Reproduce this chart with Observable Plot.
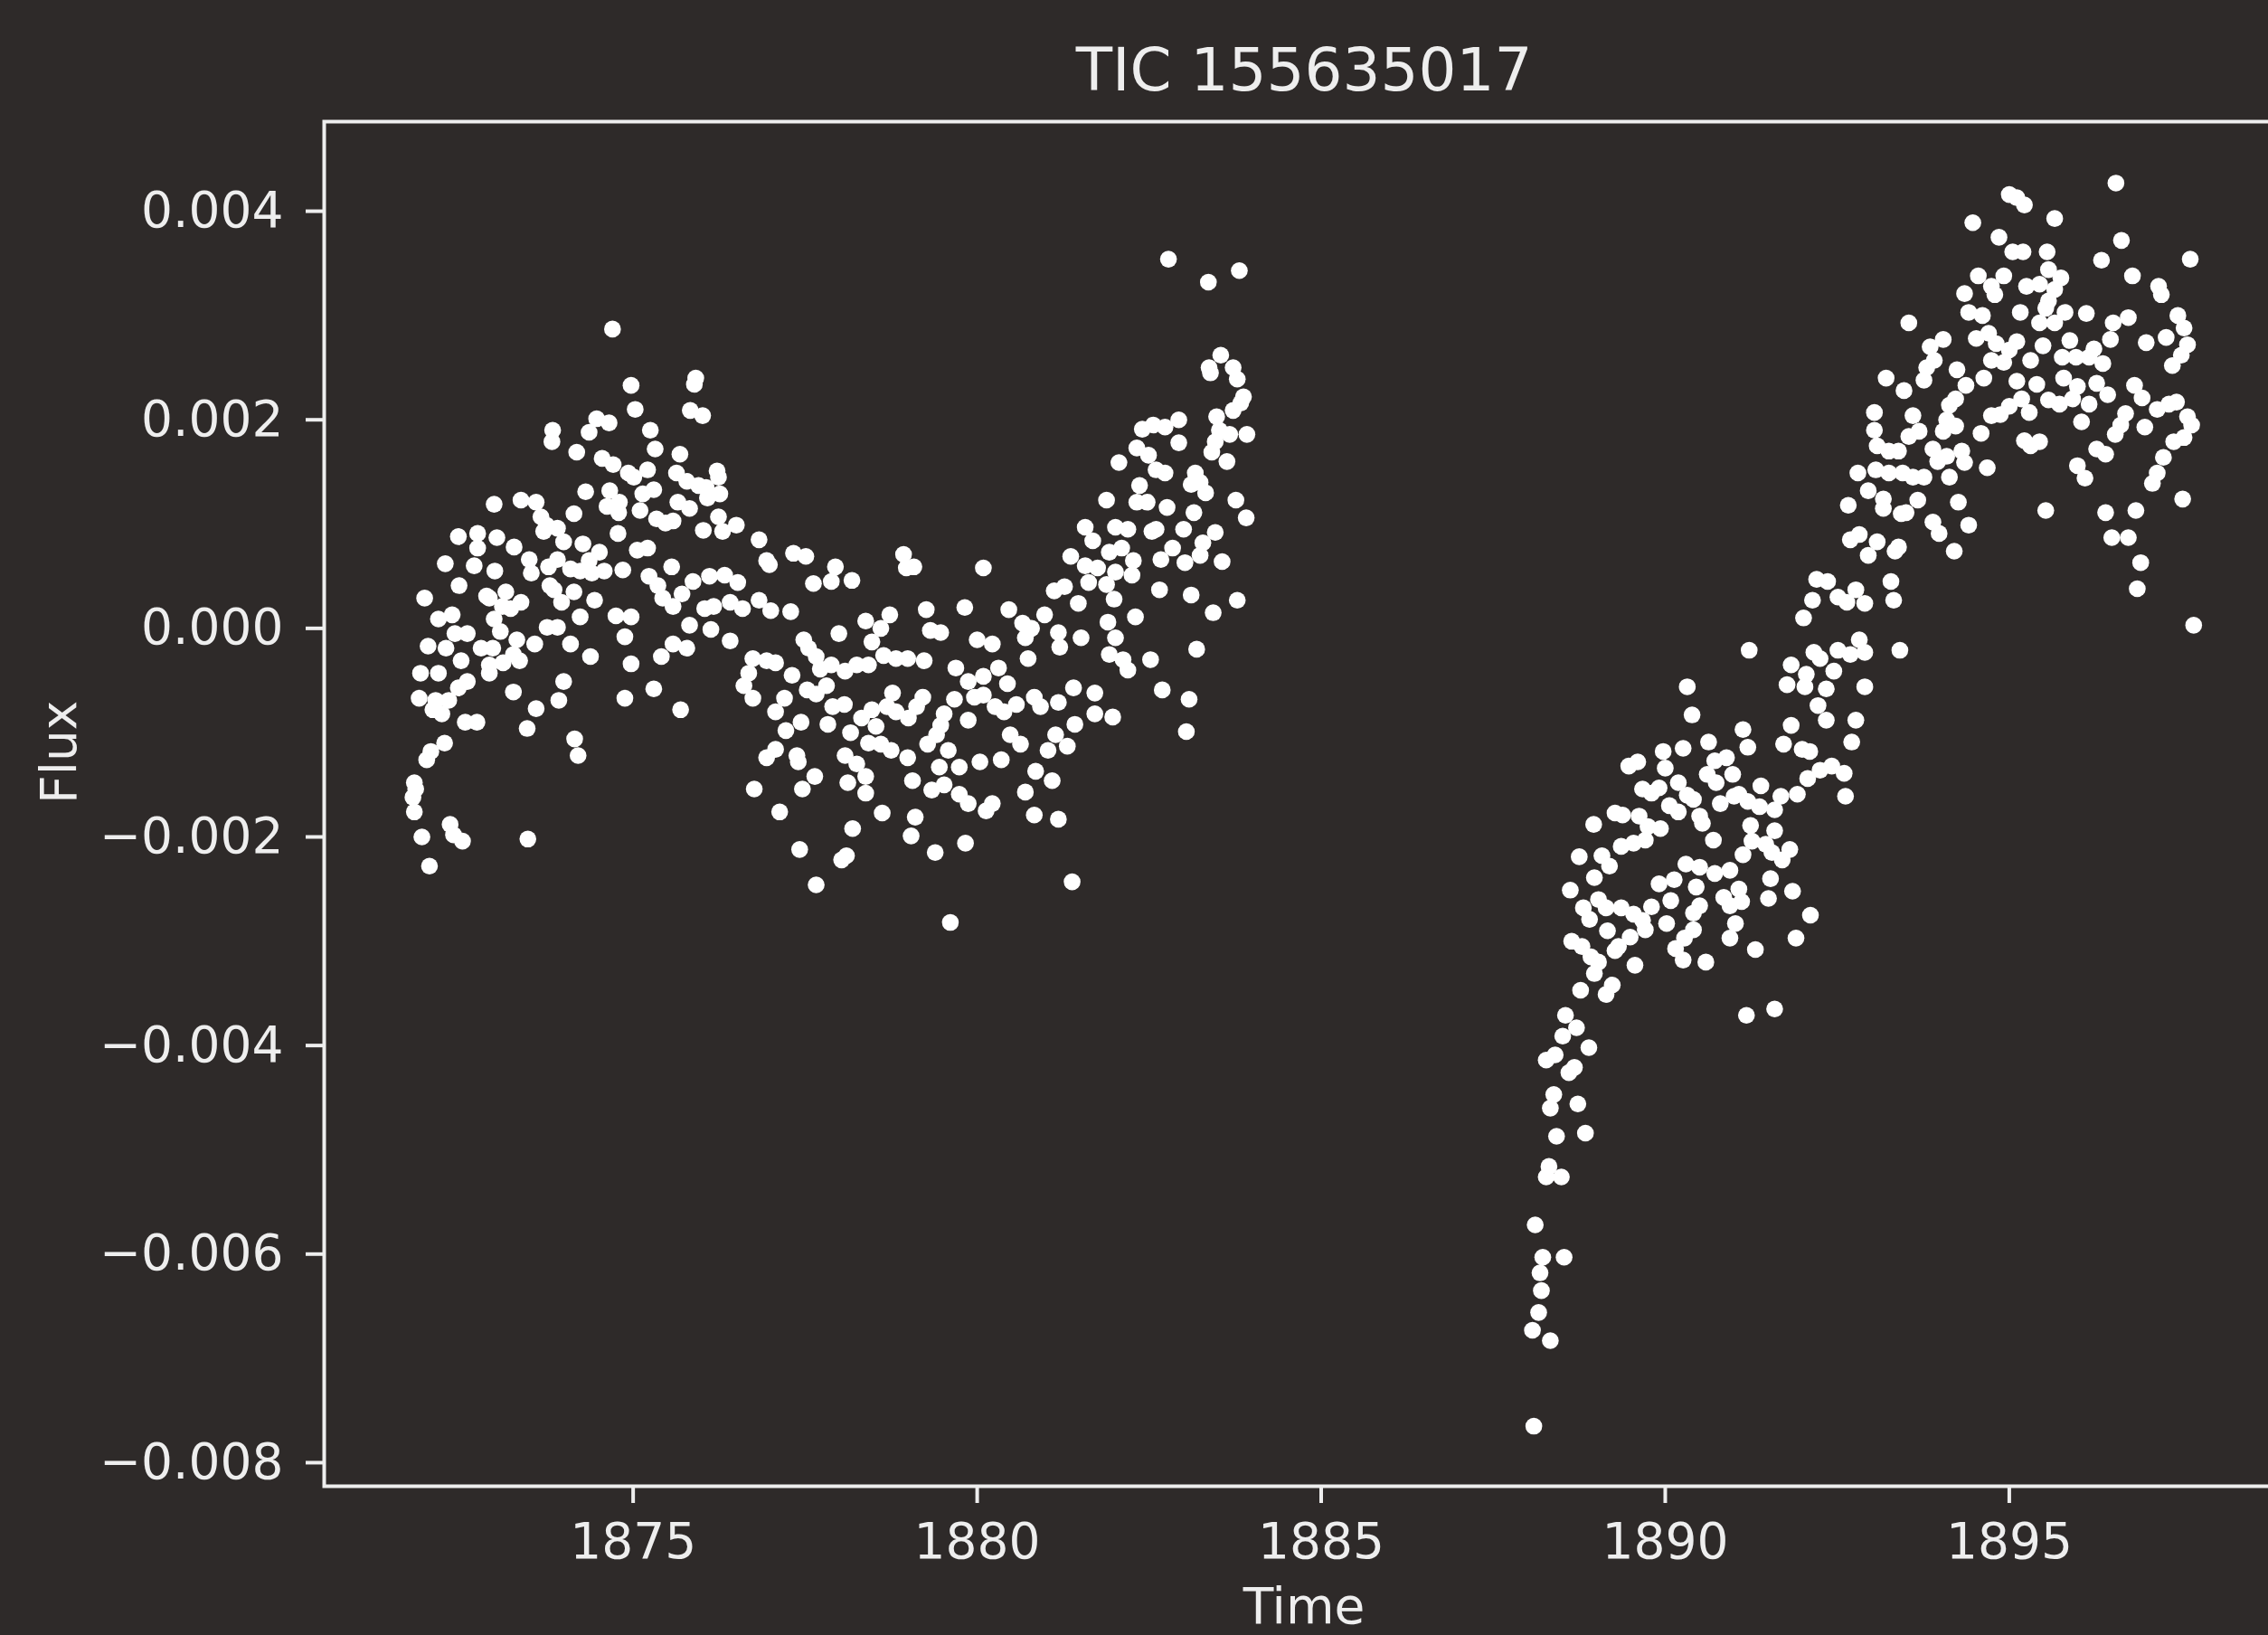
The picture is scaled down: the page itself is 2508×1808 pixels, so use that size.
<!DOCTYPE html>
<html>
<head>
<meta charset="utf-8">
<script src="https://cdn.jsdelivr.net/npm/d3@7"></script>
<script src="https://cdn.jsdelivr.net/npm/@observablehq/plot@0.6"></script>
<style>
  html, body { margin: 0; padding: 0; background: #2e2a29; overflow: hidden; }
  #chart svg { max-width: none !important; }
</style>
</head>
<body>
<div id="chart"></div>
<script>
// Light curve of TIC 155635017: two orbits separated by the data downlink gap.
const title = "TIC 155635017";
const xLabel = "Time";
const yLabel = "Flux";
const timeTicks = [1875, 1880, 1885, 1890, 1895];
const fluxTicks = [-0.008, -0.006, -0.004, -0.002, 0, 0.002, 0.004];

// First orbit
const orbit1Time = [
  1874.70,1874.97,1875.03,1873.83,1873.82,1874.47,1874.65,1874.36,1874.18,1874.55,
  1874.71,1874.93,1875.01,1874.31,1874.66,1874.80,1874.79,1872.98,1873.37,1873.59,
  1873.66,1873.70,1873.90,1873.99,1874.14,1874.27,1874.51,1874.36,1874.78,1875.10,
  1875.06,1872.46,1872.74,1873.02,1873.27,1872.27,1872.69,1872.99,1873.49,1873.52,
  1873.77,1873.90,1874.09,1874.23,1874.40,1874.58,1874.85,1872.47,1871.97,1872.87,
  1873.15,1873.37,1873.22,1873.85,1873.96,1874.14,1874.44,1874.75,1874.97,1874.88,
  1872.17,1872.37,1872.41,1872.59,1872.02,1872.28,1872.79,1872.96,1873.07,1873.31,
  1873.57,1873.75,1873.90,1874.09,1874.23,1874.38,1874.97,1871.91,1872.17,1872.50,
  1872.91,1873.11,1873.26,1873.35,1872.59,1872.46,1872.91,1871.89,1872.13,1872.32,
  1872.09,1872.22,1873.26,1873.99,1873.92,1873.59,1872.56,1872.73,1873.46,1874.88,
  1872.26,1872.06,1872.00,1874.15,1874.20,1871.82,1871.84,1871.82,1871.93,1872.34,
  1872.39,1872.52,1873.47,1872.04,1873.74,1872.74,1872.91,1873.10,1872.98,1873.79,
  1875.91,1875.89,1875.83,1876.01,1875.25,1875.32,1875.68,1875.21,1875.63,1875.78,
  1875.95,1876.06,1876.22,1876.24,1875.30,1875.14,1875.65,1875.82,1876.08,1876.26,
  1875.34,1875.47,1875.58,1876.02,1876.24,1876.30,1876.50,1876.83,1876.94,1876.98,
  1877.33,1875.21,1875.56,1875.23,1875.36,1875.43,1875.58,1875.71,1875.87,1876.11,
  1876.33,1876.52,1876.04,1876.17,1876.41,1876.59,1876.83,1877.00,1877.29,1875.82,
  1876.13,1876.41,1875.58,1875.78,1875.41,1875.30,1875.69,1877.51,1877.62,1877.88,
  1877.94,1878.18,1877.48,1877.55,1877.66,1877.72,1877.99,1878.38,1878.47,1876.74,
  1876.94,1877.07,1876.68,1876.61,1876.74,1877.31,1877.20,1877.07,1877.22,1877.44,
  1877.53,1877.66,1877.81,1877.90,1878.07,1877.83,1877.88,1878.08,1878.25,1878.42,
  1878.16,1878.32,1878.47,1878.53,1878.42,1876.94,1877.07,1877.38,1877.40,1877.64,
  1878.08,1878.25,1878.38,1878.12,1878.38,1876.76,1877.46,1877.13,1878.19,1878.03,
  1878.10,1877.42,1877.66,
  1878.93,1878.97,1879.08,1880.09,1881.57,1881.68,1881.36,1881.57,1881.75,1881.12,
  1881.27,1881.47,1881.62,1878.73,1878.60,1878.64,1878.82,1878.99,1879.26,1879.32,
  1879.47,1879.23,1879.82,1880.00,1880.22,1880.46,1880.66,1880.79,1880.98,1880.70,
  1881.18,1881.20,1881.51,1880.74,1879.69,1879.87,1880.09,1880.31,1880.44,1878.77,
  1878.69,1878.82,1879.00,1879.21,1879.12,1879.67,1879.52,1879.47,1879.87,1879.96,
  1880.09,1880.26,1880.39,1880.57,1880.83,1880.92,1881.18,1881.40,1881.71,1881.71,
  1878.60,1878.75,1878.99,1879.28,1879.41,1879.58,1879.74,1879.45,1880.04,1880.35,
  1880.48,1880.63,1880.85,1881.03,1881.14,1881.31,1881.42,1881.09,1879.06,1879.34,
  1879.52,1879.74,1879.87,1880.22,1880.13,1880.70,1880.83,1881.18,1878.62,1879.10,
  1879.04,1879.39,1879.83,1881.38,1879.61,
  1882.78,1883.36,1883.81,1883.54,1883.37,1883.39,1883.72,1883.78,1883.87,1883.72,
  1883.92,1883.67,1883.48,1883.52,1883.46,1883.41,1883.63,1882.93,1882.93,1882.40,
  1882.56,1882.73,1882.32,1882.49,1882.60,1882.73,1882.06,1883.17,1883.24,1883.32,
  1883.11,1882.36,1882.32,1882.47,1881.88,1882.76,1883.15,1883.00,1883.46,1883.76,
  1883.91,1882.01,1882.19,1882.54,1882.60,1881.92,1882.10,1882.27,1882.01,1882.25,
  1882.67,1882.84,1883.02,1883.24,1883.28,1883.56,1881.88,1881.99,1882.65,1883.11,
  1883.43,1883.78,1882.30,1881.90,1882.01,1881.92,1882.12,1882.19,1882.52,1883.19,
  1882.69,1883.08,1883.04,1881.97,1883.83,1871.80,1874.62
];
const orbit1Flux = [
  0.00287,0.00233,0.00210,0.00190,0.00179,0.00201,0.00197,0.00188,0.00169,0.00163,
  0.00157,0.00149,0.00145,0.00131,0.00132,0.00121,0.00111,0.00119,0.00123,0.00121,
  0.00107,0.00093,0.00096,0.00083,0.00110,0.00081,0.00073,0.00065,0.00091,0.00113,
  0.00075,0.00088,0.00091,0.00087,0.00078,0.00062,0.00060,0.00055,0.00066,0.00053,
  0.00059,0.00066,0.00057,0.00055,0.00053,0.00055,0.00056,0.00041,0.00029,0.00031,
  0.00035,0.00025,0.00019,0.00037,0.00025,0.00035,0.00027,0.00012,0.00011,-0.00008,
  0.00009,0.00013,-0.00005,-0.00005,-0.00017,-0.00019,-0.00019,-0.00019,-0.00003,-0.00011,
  -0.00015,0.00001,0.00001,-0.00015,0.00011,-0.00027,-0.00034,-0.00043,-0.00043,-0.00031,
  -0.00035,-0.00033,-0.00025,-0.00031,-0.00051,-0.00057,-0.00043,-0.00067,-0.00069,-0.00069,
  -0.00078,-0.00082,-0.00061,-0.00051,-0.00069,-0.00077,-0.00090,-0.00090,-0.00096,-0.00067,
  -0.00110,-0.00118,-0.00126,-0.00106,-0.00122,-0.00148,-0.00154,-0.00176,-0.00200,-0.00188,
  -0.00198,-0.00204,-0.00202,-0.00228,0.00099,0.00077,0.00029,0.00021,0.00009,0.00041,
  0.00240,0.00234,0.00209,0.00204,0.00190,0.00172,0.00167,0.00152,0.00149,0.00141,
  0.00137,0.00135,0.00151,0.00145,0.00133,0.00129,0.00121,0.00115,0.00125,0.00129,
  0.00105,0.00101,0.00103,0.00094,0.00107,0.00093,0.00099,0.00085,0.00065,0.00061,
  0.00072,0.00077,0.00059,0.00050,0.00041,0.00029,0.00021,0.00033,0.00045,0.00050,
  0.00051,0.00044,0.00019,0.00021,0.00025,0.00019,0.00027,0.00017,0.00016,0.00003,
  -0.00001,-0.00012,-0.00015,-0.00019,-0.00027,-0.00058,-0.00078,0.00069,0.00043,0.00045,
  0.00059,0.00046,-0.00011,-0.00019,-0.00027,-0.00039,-0.00005,0.00007,-0.00013,-0.00029,
  -0.00031,-0.00033,-0.00043,-0.00055,-0.00067,-0.00045,-0.00067,-0.00080,-0.00098,-0.00090,
  -0.00059,-0.00063,-0.00055,-0.00075,-0.00073,-0.00092,-0.00035,-0.00041,-0.00035,-0.00035,
  -0.00100,-0.00086,-0.00078,-0.00094,-0.00110,-0.00124,-0.00116,-0.00122,-0.00128,-0.00142,
  -0.00122,-0.00130,-0.00142,-0.00148,-0.00158,-0.00154,-0.00154,-0.00176,-0.00192,-0.00222,
  -0.00218,-0.00212,-0.00246,
  0.00071,0.00058,0.00059,0.00058,0.00097,0.00084,0.00069,0.00060,0.00058,0.00036,
  0.00040,0.00024,0.00044,0.00013,0.00000,-0.00026,-0.00029,-0.00029,0.00018,-0.00002,
  -0.00004,-0.00031,0.00020,-0.00011,-0.00015,0.00018,0.00005,0.00000,0.00013,-0.00009,
  -0.00004,-0.00018,-0.00009,-0.00029,-0.00038,-0.00051,-0.00046,-0.00038,-0.00053,-0.00062,
  -0.00075,-0.00080,-0.00086,-0.00066,-0.00075,-0.00068,-0.00082,-0.00093,-0.00088,-0.00066,
  -0.00064,-0.00075,-0.00080,-0.00073,-0.00066,-0.00075,-0.00071,-0.00057,-0.00062,-0.00082,
  -0.00111,-0.00117,-0.00124,-0.00111,-0.00102,-0.00117,-0.00133,-0.00133,-0.00128,-0.00126,
  -0.00102,-0.00111,-0.00137,-0.00117,-0.00102,-0.00113,-0.00092,-0.00146,-0.00146,-0.00155,
  -0.00150,-0.00159,-0.00168,-0.00168,-0.00175,-0.00157,-0.00179,-0.00183,-0.00177,-0.00181,
  -0.00199,-0.00215,-0.00206,-0.00243,-0.00282,
  0.00354,0.00332,0.00343,0.00262,0.00250,0.00245,0.00250,0.00239,0.00222,0.00209,
  0.00186,0.00186,0.00203,0.00190,0.00179,0.00169,0.00160,0.00200,0.00178,0.00191,
  0.00195,0.00193,0.00173,0.00166,0.00152,0.00149,0.00159,0.00149,0.00140,0.00130,
  0.00138,0.00137,0.00121,0.00121,0.00123,0.00116,0.00111,0.00095,0.00092,0.00123,
  0.00106,0.00097,0.00095,0.00093,0.00095,0.00073,0.00077,0.00065,0.00054,0.00051,
  0.00066,0.00077,0.00063,0.00070,0.00082,0.00064,0.00042,0.00028,0.00037,0.00032,
  0.00015,0.00027,0.00011,0.00006,-0.00009,-0.00025,-0.00030,-0.00040,-0.00030,-0.00020,
  -0.00059,-0.00068,-0.00099,-0.00085,0.00216,-0.00162,0.00117
];

// Second orbit
const orbit2Time = [
  1888.09,1888.11,1888.22,1888.53,1888.18,1888.20,1888.16,1888.07,1888.33,1888.31,
  1888.27,1888.49,1888.42,1888.84,1888.38,1888.33,1888.73,1888.27,1888.40,1888.60,
  1888.68,1888.55,1888.51,1888.71,1888.89,1888.77,1889.14,1889.23,
  1890.32,1890.39,1890.63,1889.97,1890.26,1889.47,1889.60,1890.00,1890.72,1890.89,
  1890.98,1890.61,1890.74,1889.67,1889.80,1889.91,1890.19,1890.32,1890.41,1890.50,
  1890.54,1890.06,1890.19,1890.80,1891.00,1889.27,1889.38,1889.62,1889.75,1889.93,
  1888.96,1889.36,1889.54,1889.71,1890.70,1888.75,1889.08,1889.19,1890.30,1890.50,
  1890.72,1890.94,1888.97,1889.91,1890.13,1890.45,1888.62,1890.85,1890.94,1889.03,
  1888.81,1888.90,1889.14,1889.36,1889.54,1889.67,1889.80,1890.08,1890.41,1890.50,
  1889.16,1889.49,1889.71,1890.02,1890.41,1890.28,1888.64,1888.79,1889.27,1889.32,
  1888.92,1889.03,1889.56,1890.15,1890.26,1890.59,1890.94,1888.97,
  1891.18,1891.59,1891.31,1891.90,1892.11,1891.53,1891.50,1891.85,1891.07,1891.11,
  1891.02,1891.13,1891.26,1891.46,1891.59,1891.55,1891.70,1891.81,1891.24,1891.07,
  1891.20,1891.39,1891.37,1891.59,1891.68,1891.92,1892.07,1892.25,1892.42,1892.60,
  1892.62,1891.13,1891.20,1891.83,1891.72,1891.99,1892.10,1892.71,1892.77,1891.83,
  1891.77,1892.05,1892.03,1892.16,1892.25,1892.45,1892.34,1892.22,1892.34,1892.90,
  1891.22,1892.51,1892.69,1892.82,1892.90,1893.41,1892.01,1892.14,1892.20,1892.36,
  1892.51,1892.64,1892.77,1892.90,1892.66,1892.69,1892.82,1892.95,1893.08,1893.17,
  1893.28,1893.32,1893.39,1893.43,
  1895.00,1895.22,1895.11,1894.47,1894.85,1895.05,1895.20,1894.55,1894.74,1894.92,
  1894.79,1895.25,1894.35,1894.41,1894.61,1895.16,1893.54,1894.52,1894.70,1894.81,
  1895.00,1895.11,1894.92,1894.74,1893.85,1894.04,1893.80,1893.91,1893.76,1893.21,
  1893.47,1894.24,1894.37,1894.22,1894.13,1894.63,1895.11,1895.18,1895.29,1893.04,
  1893.60,1893.04,1893.69,1893.54,1894.09,1894.22,1894.04,1894.74,1894.87,1895.00,
  1894.59,1894.68,1895.22,1895.31,1893.08,1893.25,1893.39,1893.89,1893.96,1894.09,
  1894.31,1894.35,1894.13,1892.80,1893.06,1893.25,1893.45,1893.60,1893.76,1892.95,
  1893.17,1893.50,1893.67,1893.89,1893.98,1894.26,1894.41,1894.20,1893.34,
  1896.55,1895.66,1896.63,1897.63,1896.34,1895.55,1896.79,1897.17,1897.21,1895.57,
  1895.75,1895.66,1895.57,1895.53,1895.44,1895.81,1896.12,1895.44,1895.66,1896.51,
  1896.73,1897.45,1897.54,1897.59,1897.50,1897.37,1897.28,1896.99,1896.47,1895.88,
  1896.23,1895.77,1895.97,1896.16,1896.36,1895.49,1895.31,1895.40,1895.79,1895.99,
  1896.27,1896.43,1896.82,1896.93,1895.57,1895.73,1895.92,1896.16,1897.15,1897.32,
  1897.43,1897.59,1897.65,1896.69,1896.62,1896.54,1896.97,1895.44,1896.05,1897.39,
  1897.54,1896.27,1896.40,1897.24,1897.15,1897.08,1895.99,1896.10,1897.52,1895.53,
  1896.40,1896.84,1896.49,1896.73,1896.91,1896.86,1897.68
];
const orbit2Flux = [
  -0.00765,-0.00572,-0.00603,-0.00603,-0.00618,-0.00635,-0.00656,-0.00673,-0.00683,-0.00516,
  -0.00526,-0.00526,-0.00487,-0.00484,-0.00447,-0.00460,-0.00456,-0.00414,-0.00409,-0.00426,
  -0.00421,-0.00371,-0.00391,-0.00383,-0.00402,-0.00347,-0.00351,-0.00342,
  -0.00056,-0.00083,-0.00109,-0.00118,-0.00115,-0.00132,-0.00128,-0.00134,-0.00127,-0.00124,
  -0.00140,-0.00140,-0.00148,-0.00154,-0.00158,-0.00153,-0.00148,-0.00160,-0.00164,-0.00180,
  -0.00187,-0.00170,-0.00176,-0.00168,-0.00161,-0.00177,-0.00179,-0.00180,-0.00190,-0.00192,
  -0.00188,-0.00209,-0.00206,-0.00203,-0.00203,-0.00219,-0.00218,-0.00228,-0.00226,-0.00229,
  -0.00235,-0.00232,-0.00239,-0.00245,-0.00241,-0.00248,-0.00251,-0.00258,-0.00266,-0.00260,
  -0.00268,-0.00279,-0.00268,-0.00268,-0.00274,-0.00280,-0.00267,-0.00261,-0.00273,-0.00266,
  -0.00290,-0.00296,-0.00289,-0.00283,-0.00289,-0.00297,-0.00300,-0.00305,-0.00309,-0.00305,
  -0.00315,-0.00320,-0.00323,-0.00307,-0.00318,-0.00320,-0.00297,-0.00331,
  -0.00371,-0.00365,-0.00308,-0.00297,-0.00275,-0.00240,-0.00259,-0.00252,-0.00250,-0.00262,
  -0.00283,-0.00217,-0.00204,-0.00207,-0.00194,-0.00215,-0.00222,-0.00212,-0.00189,-0.00159,
  -0.00166,-0.00151,-0.00171,-0.00174,-0.00161,-0.00159,-0.00144,-0.00136,-0.00132,-0.00139,
  -0.00161,-0.00097,-0.00114,-0.00093,-0.00111,-0.00116,-0.00118,-0.00109,-0.00088,-0.00035,
  -0.00054,-0.00044,-0.00056,-0.00023,-0.00029,-0.00041,-0.00058,-0.00074,-0.00088,-0.00056,
  -0.00021,-0.00021,-0.00025,-0.00011,-0.00023,-0.00021,0.00010,0.00027,0.00047,0.00045,
  0.00030,0.00025,0.00037,0.00024,0.00118,0.00085,0.00090,0.00070,0.00083,0.00115,
  0.00045,0.00027,0.00078,0.00110,
  0.00416,0.00406,0.00413,0.00389,0.00375,0.00361,0.00361,0.00338,0.00328,0.00338,
  0.00320,0.00328,0.00321,0.00303,0.00300,0.00303,0.00293,0.00278,0.00283,0.00273,
  0.00267,0.00275,0.00255,0.00257,0.00270,0.00277,0.00250,0.00257,0.00238,0.00240,
  0.00228,0.00248,0.00233,0.00220,0.00214,0.00240,0.00237,0.00220,0.00207,0.00207,
  0.00204,0.00190,0.00189,0.00184,0.00200,0.00194,0.00189,0.00204,0.00205,0.00213,
  0.00187,0.00154,0.00180,0.00175,0.00175,0.00170,0.00170,0.00172,0.00160,0.00165,
  0.00170,0.00159,0.00145,0.00149,0.00152,0.00149,0.00149,0.00145,0.00145,0.00132,
  0.00124,0.00111,0.00123,0.00102,0.00091,0.00121,0.00099,0.00074,0.00074,
  0.00427,0.00393,0.00372,0.00354,0.00353,0.00361,0.00338,0.00328,0.00320,0.00344,
  0.00336,0.00325,0.00314,0.00307,0.00330,0.00303,0.00302,0.00293,0.00293,0.00293,
  0.00298,0.00300,0.00288,0.00272,0.00262,0.00252,0.00279,0.00274,0.00277,0.00276,
  0.00268,0.00260,0.00260,0.00260,0.00254,0.00271,0.00257,0.00234,0.00240,0.00232,
  0.00235,0.00224,0.00233,0.00221,0.00219,0.00215,0.00220,0.00215,0.00210,0.00215,
  0.00217,0.00203,0.00195,0.00206,0.00195,0.00186,0.00193,0.00179,0.00198,0.00179,
  0.00183,0.00172,0.00167,0.00164,0.00149,0.00139,0.00156,0.00144,0.00124,0.00113,
  0.00111,0.00113,0.00087,0.00087,0.00063,0.00038,0.00003
];

if (orbit1Time.length !== orbit1Flux.length) console.error("orbit 1 length mismatch", orbit1Time.length, orbit1Flux.length);
if (orbit2Time.length !== orbit2Flux.length) console.error("orbit 2 length mismatch", orbit2Time.length, orbit2Flux.length);

const points = [
  ...orbit1Time.map((t, i) => ({time: t, flux: orbit1Flux[i]})),
  ...orbit2Time.map((t, i) => ({time: t, flux: orbit2Flux[i]}))
];

const bg = "#2e2a29";
const fg = "#eeeeee";

const chart = Plot.plot({
  width: 2540,
  height: 1808,
  marginLeft: 358,
  marginRight: 15,
  marginTop: 134,
  marginBottom: 165,
  style: {background: bg, color: fg, fontFamily: "DejaVu Sans", overflow: "visible", maxWidth: "none"},
  x: {domain: [1870.51, 1898.99]},
  y: {domain: [-0.008226, 0.004859]},
  marks: [
    Plot.dot(points, {x: "time", y: "flux", r: 9.3, fill: "#ffffff", stroke: null}),
    Plot.frame({stroke: fg, strokeWidth: 4}),
    Plot.axisX({ticks: timeTicks, tickFormat: d3.format("d"), tickSize: 19, tickPadding: 21,
                fontSize: 55, strokeWidth: 4, label: null}),
    Plot.axisY({ticks: fluxTicks, tickFormat: d3.format(".3f"), tickSize: 20, tickPadding: 25,
                fontSize: 55, strokeWidth: 4, label: null}),
    Plot.text([title], {text: d => d, frameAnchor: "top", dy: -35, lineAnchor: "bottom",
                        fontSize: 66, fill: fg}),
    Plot.text([xLabel], {text: d => d, frameAnchor: "bottom", dy: 151, lineAnchor: "bottom",
                         fontSize: 55, fill: fg}),
    Plot.text([yLabel], {text: d => d, frameAnchor: "left", dx: -275, rotate: -90,
                         lineAnchor: "bottom", fontSize: 55, fill: fg})
  ]
});

document.getElementById("chart").appendChild(chart);
</script>
</body>
</html>
